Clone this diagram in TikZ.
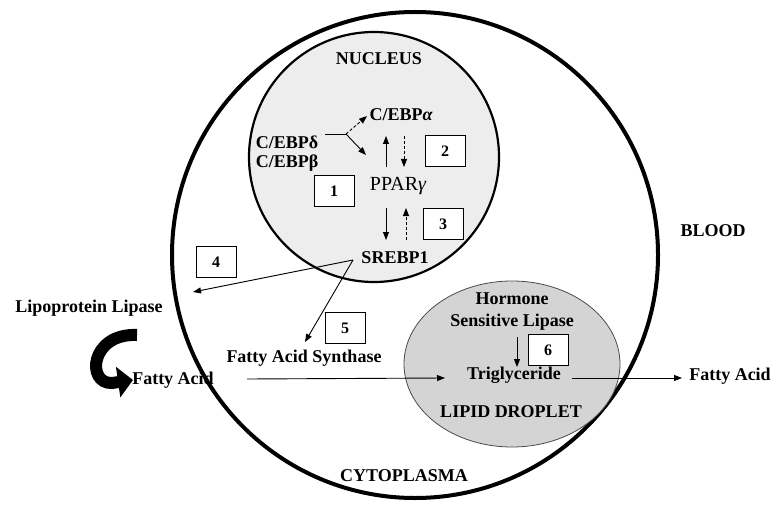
\documentclass[tikz,border=0pt]{standalone}
\usepackage{fontspec}
\setmainfont{Liberation Serif}
\usetikzlibrary{arrows.meta}
\begin{document}
\begin{tikzpicture}[x=1pt,y=-1pt,
  lbl/.style={font=\fontsize{18}{20}\selectfont\bfseries, inner sep=0pt},
  numbox/.style={draw, fill=white, line width=0.8pt, minimum width=40pt, minimum height=31pt, inner sep=0pt, font=\fontsize{16}{18}\selectfont\bfseries},
  arr/.style={line width=0.9pt, -{Triangle[length=8pt,width=6pt]}},
  darr/.style={arr, dash pattern=on 3pt off 2pt},
  thin/.style={line width=0.9pt},
]
\useasboundingbox (0,0) rectangle (773,513);
% compartments
\draw[line width=4pt] (415,255) circle[radius=243];
\draw[line width=2.2pt, fill=black!7] (374,157) circle[radius=125];
\draw[line width=0.8pt, draw=black!70, fill=black!17] (512,364) ellipse[x radius=108, y radius=83];

% labels
\node[lbl] (nuc) at (379,59) {NUCLEUS};
\node[lbl] (cebpa) at (401,115) {C/EBP{\itshape α}};
\node[lbl] (cebpd) at (287,142) {C/EBPδ};
\node[lbl] (cebpb) at (287,163) {C/EBPβ};
\node[font=\fontsize{20}{22}\selectfont, inner sep=0pt] (ppar) at (398,186) {PPAR{\itshape γ}};
\node[lbl] (srebp) at (395,258) {SREBP1};
\node[lbl] (blood) at (713,231) {BLOOD};
\node[lbl] (lpl) at (89,308) {Lipoprotein Lipase};
\node[lbl] (fas) at (304,358) {Fatty Acid Synthase};
\node[lbl] (hsl1) at (512,299) {Hormone};
\node[lbl] (hsl2) at (512,322) {Sensitive Lipase};
\node[lbl] (tg) at (514,375) {Triglyceride};
\node[lbl] (ld) at (511,412) {LIPID DROPLET};
\node[lbl] (fa1) at (173,380) {Fatty Acid};
\node[lbl] (fa2) at (730,376) {Fatty Acid};
\node[lbl] (cyto) at (404,476) {CYTOPLASMA};

% number boxes
\node[numbox] (b1) at (334,191) {1};
\node[numbox] (b2) at (445,151) {2};
\node[numbox] (b3) at (443,224) {3};
\node[numbox] (b4) at (216,262) {4};
\node[numbox] (b5) at (345,328) {5};
\node[numbox] (b6) at (548,350) {6};

% nucleus arrows
\coordinate (d0) at (325,134);
\coordinate (d1) at (346,134);
\coordinate (d2) at (367,116);
\coordinate (d3) at (366,155);
\draw[thin] (d0) -- (d1);
\draw[darr] (d1) -- (d2);
\draw[arr] (d1) -- (d3);
\coordinate (u1) at (386,167); \coordinate (u2) at (386,136);
\coordinate (v1) at (404,136); \coordinate (v2) at (404,167);
\draw[arr] (u1) -- (u2);
\draw[darr] (v1) -- (v2);
\coordinate (w1) at (386,208); \coordinate (w2) at (386,240);
\coordinate (z1) at (406,240); \coordinate (z2) at (406,208);
\draw[arr] (w1) -- (w2);
\draw[darr] (z1) -- (z2);

% SREBP1 targets
\coordinate (s0) at (353,260);
\coordinate (lplend) at (193,292);
\coordinate (fasend) at (305,342);
\draw[arr] (s0) -- (lplend);
\draw[arr] (s0) -- (fasend);

% fatty acid flow
\coordinate (fa1e) at (247,379);
\coordinate (tgw) at (445,378);
\coordinate (tge) at (572,378);
\coordinate (fa2w) at (682,378);
\draw[arr] (fa1e) -- (tgw);
\draw[arr] (tge) -- (fa2w);
\coordinate (h1) at (517,337);
\coordinate (h2) at (517,367);
\draw[arr] (h1) -- (h2);

% thick curved arrow
\coordinate (ca0) at (137,335);
\coordinate (ca1) at (133,380);
\draw[line width=12pt, -{Triangle[length=15pt,width=30pt]}] (ca0) .. controls (90,333) and (86,384) .. (112,383) -- (ca1);
\end{tikzpicture}
\end{document}
